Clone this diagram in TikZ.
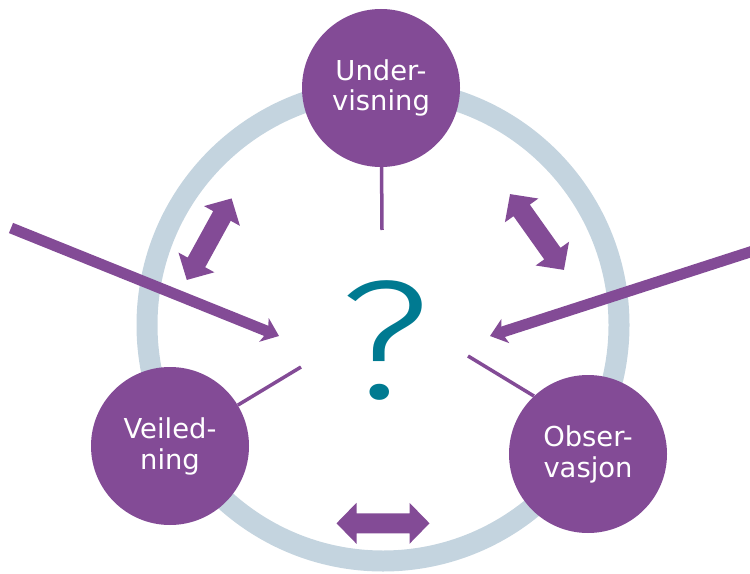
\documentclass[tikz,border=0pt]{standalone}
\usepackage{fontspec}
\setmainfont{DejaVu Sans}
\newfontfamily\qfont{Fira Sans Light}
\usetikzlibrary{arrows.meta}
\definecolor{vio}{HTML}{834B96}
\definecolor{ringc}{HTML}{C4D4DF}
\definecolor{qcol}{HTML}{007A91}
\newcommand\dblarr[3]{\fill[vio, shift={(#1,#2)}, rotate=#3] (-46.5,0) -- (-26.5,20.5) -- (-26.5,10) -- (26.5,10) -- (26.5,20.5) -- (46.5,0) -- (26.5,-20.5) -- (26.5,-10) -- (-26.5,-10) -- (-26.5,-20.5) -- cycle;}
\begin{document}
\begin{tikzpicture}[x=1bp,y=-1bp,
  topic/.style={circle, fill=vio, minimum size=158bp, inner sep=0pt, text=white, align=center, font=\fontsize{27.5}{31}\selectfont},
  stem/.style={draw=vio, line width=3.5bp},
  longarrow/.style={draw=vio, line width=11bp, -{Stealth[length=16bp,width=25bp,inset=4bp]}},
]
\useasboundingbox (0,0) rectangle (750,574);
\draw[ringc, line width=21bp] (383,325) circle[radius=236];
\node[topic] (und) at (381,88) {Under-\\visning};
\node[topic] (veil) at (170,446) {Veiled-\\ning};
\node[topic] (obs) at (588,454) {Obser-\\vasjon};
\coordinate (ts) at (382,230);
\coordinate (ls) at (301,367);
\coordinate (rs) at (468,356);
\draw[stem] (und) -- (ts);
\draw[stem] (ls) -- (veil);
\draw[stem] (rs) -- (obs.133);
\coordinate (la) at (11,228);
\coordinate (lt) at (279,336);
\coordinate (ra) at (755,250.4);
\coordinate (rt) at (490,336);
\draw[longarrow] (la) -- (lt);
\draw[longarrow] (ra) -- (rt);
\dblarr{209.2}{239.2}{61.2}
\dblarr{537}{232}{-54.6}
\dblarr{383}{523.3}{0}
\node[text=qcol, inner sep=0pt, font=\qfont\fontsize{170}{170}\selectfont] (q) at (384.5,340.5) {\scalebox{1.2}[1]{?}};
\end{tikzpicture}
\end{document}
